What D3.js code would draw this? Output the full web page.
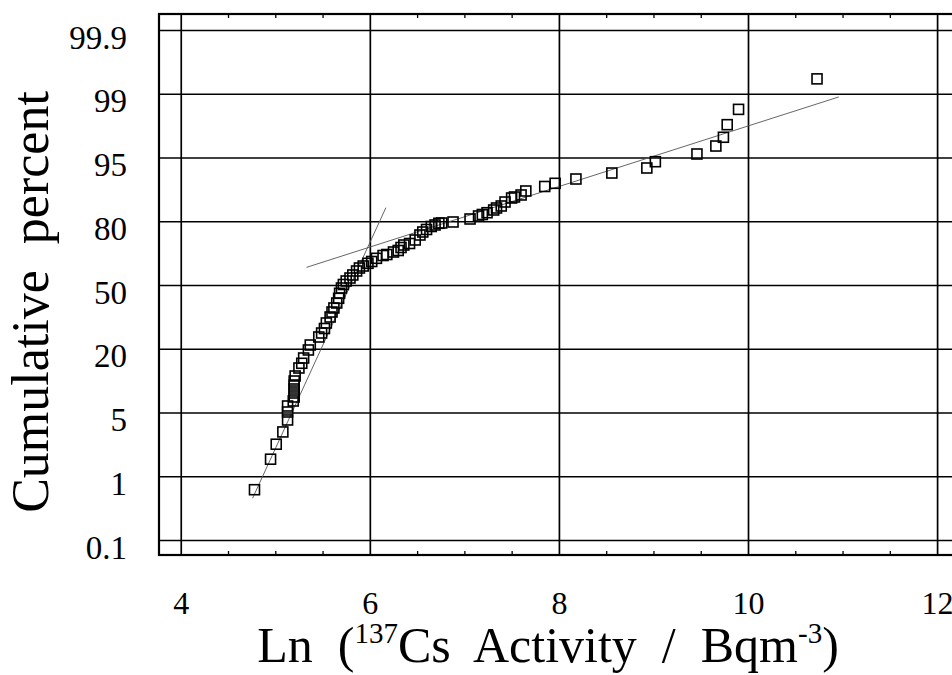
<!DOCTYPE html>
<html>
<head>
<meta charset="utf-8">
<script src="https://cdn.jsdelivr.net/npm/d3@7"></script>
<style>
  html, body { margin: 0; padding: 0; background: #fff; }
  svg { display: block; }
  text { font-family: "Liberation Serif", "Times New Roman", serif; fill: #000; }
</style>
</head>
<body>
<svg id="chart" width="952" height="675"></svg>
<script>
// probability axis: the tick levels are drawn evenly spaced
const probTicks = [0.1, 1, 5, 20, 50, 80, 95, 99, 99.9];
const xTicks = [4, 6, 8, 10, 12];
const xMinor = [4.5, 5, 5.5, 6.5, 7, 7.5, 8.5, 9, 9.5, 10.5, 11, 11.5];

const lnActivity = [4.78, 4.95, 5.01, 5.08, 5.13, 5.13, 5.13, 5.19, 5.20, 5.20,
  5.20, 5.20, 5.20, 5.21, 5.25, 5.28, 5.30, 5.35, 5.37, 5.46,
  5.49, 5.52, 5.54, 5.58, 5.60, 5.62, 5.65, 5.67, 5.68, 5.70,
  5.72, 5.75, 5.79, 5.82, 5.86, 5.89, 5.93, 5.98, 6.02, 6.07,
  6.14, 6.18, 6.25, 6.30, 6.33, 6.36, 6.42, 6.48, 6.53, 6.56,
  6.60, 6.65, 6.69, 6.73, 6.76, 6.88, 7.06, 7.15, 7.19, 7.24,
  7.31, 7.34, 7.39, 7.43, 7.50, 7.53, 7.60, 7.65, 7.85, 7.96,
  8.18, 8.56, 8.93, 9.02, 9.46, 9.66, 9.74, 9.78, 9.90, 10.73];

const cumPercent = [0.81, 2.07, 3.01, 3.78, 4.53, 5.12, 6.53, 7.71, 8.65, 9.59,
  10.53, 11.47, 12.41, 13.59, 15.47, 16.58, 17.82, 19.71, 21.76, 25.53,
  27.41, 29.53, 32.12, 34.94, 37.29, 39.18, 41.53, 43.74, 46.09, 48.59,
  50.24, 51.88, 53.29, 54.71, 56.59, 58.0, 58.94, 60.21, 61.06, 62.56,
  63.88, 64.35, 65.53, 66.24, 67.65, 68.82, 69.53, 71.18, 73.53, 74.94,
  76.12, 77.53, 78.24, 79.04, 79.18, 79.65, 80.53, 81.24, 81.59, 82.01,
  82.65, 83.12, 83.59, 84.53, 85.47, 85.71, 86.18, 87.12, 88.18, 88.93,
  89.94, 91.35, 92.53, 94.01, 95.22, 95.72, 96.27, 97.06, 98.02, 99.21];

// the two fitted lines (ln activity, cumulative percent)
const fitLow = [[4.76, 0.69], [6.17, 83.2]];
const fitHigh = [[5.33, 58.3], [10.96, 98.8]];

(() => {
  const svg = d3.select("#chart");
  const serif = '"Liberation Serif", "Times New Roman", serif';

  const plotLeft = 159, plotRight = 956, plotTop = 14, plotBottom = 555;
  const gridBottom = 540, gridStep = 63.75;

  const x = d3.scaleLinear().domain([3.77, 12.2]).range([plotLeft, plotRight]);
  const y = d3.scaleLinear()
    .domain(probTicks)
    .range(probTicks.map((d, i) => gridBottom - i * gridStep));

  // vertical grid + x labels
  const xAxis = svg.append("g")
    .attr("transform", `translate(0,${plotBottom})`)
    .call(d3.axisBottom(x)
      .tickValues(xTicks)
      .tickSize(-(plotBottom - plotTop))
      .tickPadding(36)
      .tickFormat(d3.format("d")));
  xAxis.select(".domain").remove();
  xAxis.selectAll("line").attr("stroke", "#000").attr("stroke-width", 1.7);
  xAxis.selectAll("text")
    .style("font-family", serif)
    .style("font-size", "32px");

  // minor ticks, bottom and top
  const minorBottom = svg.append("g")
    .attr("transform", `translate(0,${plotBottom})`)
    .call(d3.axisBottom(x).tickValues(xMinor).tickSize(-4).tickFormat(""));
  const minorTop = svg.append("g")
    .attr("transform", `translate(0,${plotTop})`)
    .call(d3.axisTop(x).tickValues(xMinor).tickSize(-4).tickFormat(""));
  [minorBottom, minorTop].forEach(g => {
    g.select(".domain").remove();
    g.selectAll("line").attr("stroke", "#000").attr("stroke-width", 1.3);
  });

  // horizontal grid + y labels
  const yAxis = svg.append("g")
    .attr("transform", `translate(${plotLeft},0)`)
    .call(d3.axisLeft(y)
      .tickValues(probTicks)
      .tickSize(-(plotRight - plotLeft))
      .tickPadding(32)
      .tickFormat(d => String(d)));
  yAxis.select(".domain").remove();
  yAxis.selectAll("line").attr("stroke", "#000").attr("stroke-width", 1.7);
  yAxis.selectAll("text")
    .style("font-family", serif)
    .style("font-size", "33px")
    .attr("dy", "0.55em");

  // frame
  svg.append("rect")
    .attr("x", plotLeft)
    .attr("y", plotTop)
    .attr("width", plotRight - plotLeft)
    .attr("height", plotBottom - plotTop)
    .attr("fill", "none")
    .attr("stroke", "#000")
    .attr("stroke-width", 2.2);

  // fitted lines
  const line = d3.line().x(d => x(d[0])).y(d => y(d[1]));
  svg.selectAll(".fit")
    .data([fitLow, fitHigh])
    .join("path")
    .attr("class", "fit")
    .attr("d", line)
    .attr("fill", "none")
    .attr("stroke", "#555")
    .attr("stroke-width", 0.9);

  // data points
  const pts = lnActivity.map((v, i) => ({ x: v, p: cumPercent[i] }));
  const size = 10;
  svg.selectAll(".pt")
    .data(pts)
    .join("rect")
    .attr("class", "pt")
    .attr("x", d => x(d.x) - size / 2)
    .attr("y", d => y(d.p) - size / 2)
    .attr("width", size)
    .attr("height", size)
    .attr("fill", "none")
    .attr("stroke", "#000")
    .attr("stroke-width", 1.6);

  // axis titles
  svg.append("text")
    .attr("transform", "translate(48,302) rotate(-90)")
    .attr("text-anchor", "middle")
    .style("font-size", "52px")
    .style("white-space", "pre")
    .text("Cumulative  percent");

  const xt = svg.append("text")
    .attr("x", 548)
    .attr("y", 662)
    .attr("text-anchor", "middle")
    .style("font-size", "50px")
    .style("white-space", "pre");
  xt.append("tspan").text("Ln  (");
  xt.append("tspan").style("font-size", "29px").attr("dy", -19).text("137");
  xt.append("tspan").attr("dy", 19).text("Cs  Activity  /  Bqm");
  xt.append("tspan").style("font-size", "29px").attr("dy", -19).text("-3");
  xt.append("tspan").attr("dy", 19).text(")");
})();
</script>
</body>
</html>
